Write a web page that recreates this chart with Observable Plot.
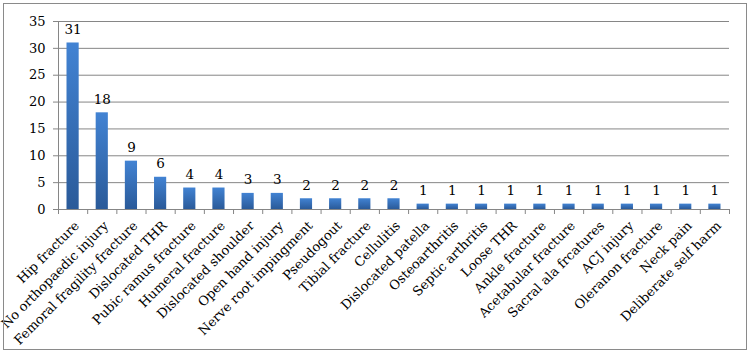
<!DOCTYPE html>
<html><head><meta charset="utf-8">
<script src="https://cdn.jsdelivr.net/npm/d3@7"></script>
<script src="https://cdn.jsdelivr.net/npm/@observablehq/plot@0.6"></script>
<style>body{margin:0;background:#fff} #chart svg{display:block}</style>
</head><body><div id="chart"></div>
<script>
const categories = ["Hip fracture","No orthopaedic injury","Femoral fragility fracture","Dislocated THR","Pubic ramus fracture","Humeral fracture","Dislocated shoulder","Open hand injury","Nerve root impingment","Pseudogout","Tibial fracture","Cellulitis","Dislocated patella","Osteoarthritis","Septic arthritis","Loose THR","Ankle fracture","Acetabular fracture","Sacral ala frcatures","ACJ injury","Oleranon fracture","Neck pain","Deliberate self harm"];
const values = [31,18,9,6,4,4,3,3,2,2,2,2,1,1,1,1,1,1,1,1,1,1,1];
const yTicks = [0,5,10,15,20,25,30,35];

const data = categories.map((name,i)=>({name, i, value: values[i]}));
const gray = "#868686";
const chart = Plot.plot({
  width:750, height:354, marginLeft:58, marginRight:21, marginTop:21, marginBottom:145,
  style:{fontFamily:"DejaVu Serif", fontSize:"13px", color:"#000", background:"#fff"},
  x:{domain:[0,categories.length], axis:null},
  y:{domain:[0,35], axis:null},
  marks:[
    Plot.gridY(yTicks,{stroke:gray, strokeOpacity:1}),
    Plot.axisY(yTicks,{tickSize:5, tickPadding:8, stroke:gray, fontSize:13, label:null, tickFormat:d=>String(d)}),
    Plot.rectY(data,{x1:"i", x2:d=>d.i+1, y:"value", insetLeft:8.5, insetRight:8.5, fill:"url(#barGrad)"}),
    Plot.text(data,{x:d=>d.i+0.5, y:"value", text:d=>String(d.value), lineAnchor:"bottom", dy:-9, fontSize:13.5, fill:"#000"}),
    Plot.ruleY([0],{stroke:gray}),
    Plot.ruleX([0],{stroke:gray}),
    Plot.axisX(d3.range(categories.length+1),{tickSize:5, tickFormat:()=>"", label:null, stroke:gray}),
    Plot.axisX(data.map(d=>d.i+0.5),{tickSize:0, tickRotate:-45, tickPadding:4, dx:4, dy:10, fontSize:13, fill:"#000", label:null, tickFormat:d=>categories[Math.floor(d)]})
  ]
});
const svg = d3.select(chart);
svg.insert("defs",":first-child").html(
  '<linearGradient id="barGrad" x1="0" y1="0" x2="0" y2="1">' +
  '<stop offset="0" stop-color="#4283d3"/><stop offset="1" stop-color="#2a5a99"/></linearGradient>');
svg.append("rect").attr("x",3.5).attr("y",3.5).attr("width",743).attr("height",346)
  .attr("fill","none").attr("stroke","#8a8a8a");
document.getElementById("chart").appendChild(chart);
</script></body></html>
